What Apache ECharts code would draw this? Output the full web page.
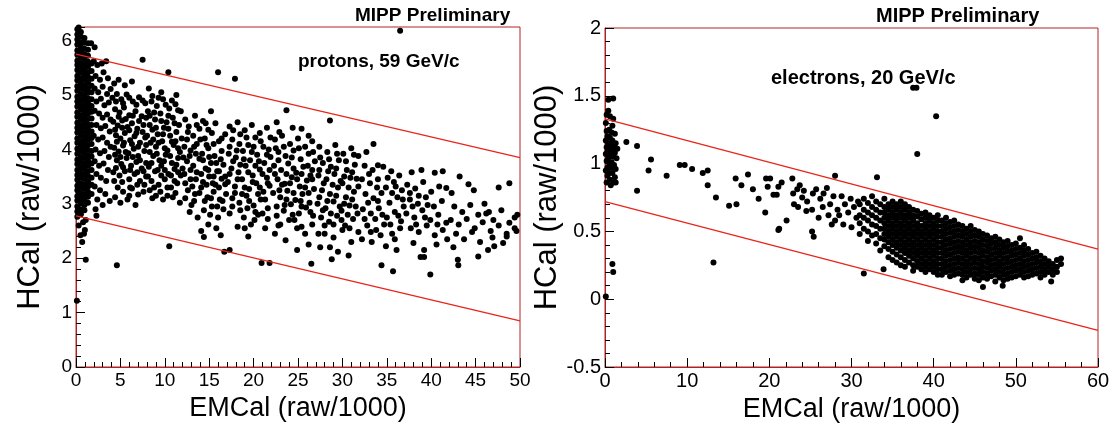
<!DOCTYPE html>
<html>
<head>
<meta charset="utf-8">
<script src="https://cdn.jsdelivr.net/npm/echarts@6/dist/echarts.min.js"></script>
<style>
  html, body { margin: 0; padding: 0; background: #fff; }
  #chart { width: 1117px; height: 429px; }
</style>
</head>
<body>
<div id="chart"></div>
<script>
// ---- protons, 59 GeV/c (left panel) ----
// dense column near EMCal = 0, one [x, y...] entry per column
const protonCore = [
  [0.15, 2.76, 2.86, 2.95, 3.06, 3.14, 3.25, 3.33, 3.44, 3.53, 3.62, 3.73, 3.81, 3.92, 4.01, 4.12, 4.20, 4.31, 4.40, 4.49, 4.60, 4.68, 4.79, 4.88, 4.97, 5.08, 5.16, 5.27, 5.35, 5.46, 5.55, 5.63, 5.74, 5.82, 5.93, 6.02, 6.11, 6.21],
  [0.55, 2.81, 2.90, 3.01, 3.10, 3.19, 3.29, 3.38, 3.48, 3.57, 3.67, 3.77, 3.86, 3.96, 4.06, 4.15, 4.25, 4.35, 4.44, 4.54, 4.63, 4.73, 4.83, 4.92, 5.02, 5.12, 5.21, 5.31, 5.41, 5.50, 5.59, 5.69, 5.78, 5.88, 5.97, 6.07, 6.16],
  [0.95, 2.88, 2.98, 3.08, 3.17, 3.27, 3.36, 3.46, 3.55, 3.65, 3.74, 3.84, 3.94, 4.03, 4.13, 4.22, 4.32, 4.42, 4.51, 4.61, 4.70, 4.80, 4.90, 4.99, 5.09, 5.18, 5.28, 5.37, 5.47, 5.56, 5.66, 5.75, 5.85, 5.96, 6.05],
  [1.35, 3.02, 3.13, 3.22, 3.32, 3.41, 3.51, 3.60, 3.70, 3.79, 3.89, 3.99, 4.08, 4.18, 4.27, 4.37, 4.46, 4.56, 4.66, 4.75, 4.85, 4.94, 5.04, 5.13, 5.23, 5.33, 5.42, 5.52, 5.61, 5.72, 5.83, 5.95],
  [1.75, 3.18, 3.35, 3.48, 3.62, 3.74, 3.87, 3.97, 4.10, 4.21, 4.33, 4.45, 4.57, 4.69, 4.80, 4.92, 5.05, 5.17, 5.30, 5.44, 5.58]
]
const protonPoints = [
  [0.5, 2.42], [0.9, 2.45], [0.7, 2.30], [1.0, 2.52], [0.3, 2.60], [0.8, 2.66], [1.1, 2.70], [0.1, 1.22], [1.1, 1.97], [2.3, 2.78], [1.7, 5.95], [2.1, 5.88], [0.3, 6.24],
  [2.0, 5.62], [2.4, 5.55], [2.9, 5.58], [3.4, 5.62], [2.2, 5.35], [2.7, 5.28], [3.1, 5.42], [3.6, 5.31], [2.1, 5.12], [2.5, 5.05], [3.0, 5.15], [3.5, 5.02], [3.9, 5.11],
  [2.3, 4.88], [2.8, 4.93], [3.2, 4.81], [3.7, 4.86], [2.1, 4.71], [2.6, 4.66], [3.0, 4.58], [3.5, 4.64], [3.9, 4.55], [2.3, 4.45], [2.8, 4.39], [3.3, 4.43], [3.8, 4.33],
  [2.0, 4.25], [2.5, 4.18], [3.0, 4.22], [3.5, 4.12], [3.9, 4.05], [2.2, 4.00], [2.7, 3.93], [3.2, 3.97], [3.7, 3.86], [2.1, 3.78], [2.6, 3.70], [3.1, 3.74], [3.6, 3.62],
  [2.3, 3.55], [2.8, 3.48], [3.4, 3.42], [2.1, 3.32], [2.7, 3.25], [3.3, 3.18], [2.4, 3.08], [3.0, 2.98], [3.8, 3.05], [2.2, 2.90],
  [4.3, 5.21], [4.8, 5.28], [5.5, 5.18], [6.3, 5.25], [7.5, 5.65], [4.1, 4.95], [4.6, 5.02], [5.1, 4.92], [5.7, 5.01], [6.4, 4.88], [7.1, 4.96], [7.8, 4.85],
  [4.4, 4.74], [4.9, 4.68], [5.4, 4.77], [6.0, 4.63], [6.7, 4.70], [7.4, 4.61], [4.2, 4.51], [4.7, 4.44], [5.2, 4.53], [5.8, 4.41], [6.3, 4.48], [6.9, 4.38], [7.6, 4.45],
  [4.5, 4.26], [5.0, 4.20], [5.5, 4.30], [6.1, 4.17], [6.6, 4.24], [7.2, 4.12], [7.8, 4.22], [4.3, 4.03], [4.8, 3.96], [5.3, 4.07], [5.9, 3.93], [6.5, 4.01], [7.0, 3.88],
  [7.7, 3.97], [4.6, 3.80], [5.1, 3.73], [5.7, 3.84], [6.2, 3.70], [6.8, 3.77], [7.4, 3.65], [4.2, 3.58], [4.9, 3.52], [5.5, 3.60], [6.0, 3.45], [6.6, 3.55], [7.2, 3.42],
  [7.9, 3.50], [4.7, 3.30], [5.3, 3.22], [6.3, 3.28], [7.0, 3.17], [5.8, 3.08], [4.4, 3.12], [6.7, 2.98], [7.6, 3.22], [4.6, 1.87],
  [8.2, 5.12], [9.6, 5.05], [10.4, 5.42], [11.3, 5.00], [8.5, 4.88], [9.1, 4.80], [9.8, 4.92], [10.5, 4.75], [11.2, 4.83], [11.8, 4.70], [8.3, 4.62], [8.9, 4.55],
  [9.5, 4.66], [10.2, 4.50], [10.9, 4.58], [11.6, 4.45], [8.6, 4.36], [9.2, 4.28], [9.9, 4.40], [10.6, 4.25], [11.3, 4.32], [11.9, 4.20], [8.4, 4.12], [9.0, 4.05],
  [9.7, 4.15], [10.3, 3.98], [11.0, 4.08], [11.7, 3.95], [8.7, 3.88], [9.4, 3.80], [10.1, 3.90], [10.8, 3.75], [11.5, 3.84], [8.2, 3.68], [8.9, 3.60], [9.6, 3.70],
  [10.4, 3.55], [11.1, 3.64], [11.8, 3.52], [8.5, 3.42], [9.3, 3.35], [10.0, 3.45], [10.7, 3.30], [11.4, 3.38], [9.0, 3.15], [9.8, 3.08], [10.9, 3.12], [11.7, 3.02],
  [8.3, 3.25], [10.5, 2.22],
  [12.3, 4.55], [13.4, 4.62], [14.6, 4.48], [15.2, 4.70], [16.0, 5.42], [12.6, 4.32], [13.2, 4.25], [13.9, 4.38], [14.5, 4.20], [15.3, 4.30], [16.1, 4.15], [16.8, 4.28],
  [12.2, 4.05], [12.9, 3.98], [13.6, 4.10], [14.2, 3.92], [14.9, 4.02], [15.6, 3.88], [16.4, 3.97], [12.5, 3.78], [13.2, 3.70], [13.9, 3.83], [14.6, 3.65], [15.2, 3.75],
  [15.9, 3.60], [16.6, 3.72], [12.2, 3.55], [12.9, 3.45], [13.6, 3.58], [14.3, 3.40], [15.0, 3.50], [15.7, 3.35], [16.4, 3.46], [12.6, 3.25], [13.4, 3.18], [14.1, 3.30],
  [14.8, 3.12], [15.5, 3.22], [16.2, 3.08], [16.9, 3.18], [13.0, 2.98], [14.4, 2.88], [15.3, 2.95], [16.0, 2.75], [16.6, 2.90], [14.1, 2.50], [14.9, 2.62], [15.8, 2.55],
  [16.7, 2.12], [16.3, 2.42], [14.4, 2.39],
  [17.9, 5.30], [17.3, 4.42], [18.2, 4.50], [19.0, 4.35], [19.8, 4.45], [20.7, 4.30], [21.5, 4.40], [17.6, 4.18], [18.4, 4.10], [19.2, 4.22], [20.0, 4.05], [20.8, 4.15],
  [21.7, 4.00], [17.2, 3.92], [18.0, 3.85], [18.8, 3.97], [19.6, 3.80], [20.4, 3.90], [21.2, 3.75], [21.9, 3.86], [17.5, 3.65], [18.3, 3.58], [19.1, 3.70], [19.9, 3.52],
  [20.7, 3.63], [21.5, 3.48], [17.1, 3.40], [17.9, 3.32], [18.7, 3.45], [19.5, 3.27], [20.3, 3.38], [21.1, 3.22], [21.8, 3.33], [17.6, 3.10], [18.4, 3.02], [19.2, 3.15],
  [20.0, 2.97], [20.8, 3.08], [21.6, 2.92], [17.3, 2.82], [18.9, 2.75], [19.7, 2.62], [20.5, 2.80], [21.3, 2.55], [18.2, 2.58], [19.4, 2.40], [20.9, 1.91], [21.8, 1.91],
  [17.3, 2.15],
  [22.6, 4.50], [23.7, 4.72], [22.4, 4.18], [23.2, 4.25], [24.1, 4.10], [25.0, 4.20], [25.8, 4.05], [26.6, 4.15], [22.8, 3.95], [23.6, 3.88], [24.5, 3.98], [25.3, 3.82],
  [26.2, 3.92], [26.9, 3.78], [22.3, 3.70], [23.1, 3.62], [23.9, 3.74], [24.8, 3.57], [25.6, 3.68], [26.4, 3.52], [22.7, 3.45], [23.5, 3.37], [24.3, 3.49], [25.2, 3.32],
  [26.0, 3.43], [26.8, 3.27], [22.2, 3.20], [23.0, 3.12], [23.8, 3.24], [24.7, 3.07], [25.5, 3.18], [26.3, 3.02], [22.6, 2.95], [23.4, 2.87], [24.2, 2.99], [25.1, 2.82],
  [25.9, 2.93], [26.7, 2.78], [23.0, 2.62], [24.0, 2.70], [24.9, 2.55], [25.8, 2.45], [26.6, 2.62], [22.4, 2.45], [23.6, 2.33], [24.9, 2.15], [26.5, 1.90], [26.2, 2.25],
  [28.6, 4.53], [27.4, 4.05], [28.3, 3.95], [29.2, 4.08], [30.1, 3.92], [31.0, 4.02], [31.8, 3.88], [27.8, 3.75], [28.7, 3.68], [29.6, 3.80], [30.5, 3.62], [31.4, 3.72],
  [27.3, 3.52], [28.2, 3.45], [29.1, 3.55], [30.0, 3.38], [30.9, 3.48], [31.8, 3.32], [27.7, 3.25], [28.6, 3.18], [29.5, 3.30], [30.4, 3.12], [31.3, 3.22], [27.2, 3.00],
  [28.1, 2.92], [29.0, 3.04], [29.9, 2.87], [30.8, 2.97], [31.7, 2.82], [27.6, 2.75], [28.5, 2.67], [29.4, 2.78], [30.3, 2.60], [31.2, 2.72], [28.0, 2.45], [29.0, 2.38],
  [30.0, 2.52], [31.0, 2.30], [31.8, 2.48], [27.5, 2.20], [29.5, 2.12], [30.7, 2.05], [28.8, 1.98], [28.6, 2.20],
  [32.7, 3.95], [33.5, 4.10], [32.5, 3.70], [33.4, 3.62], [34.0, 3.71], [34.6, 3.68], [35.5, 3.60], [36.4, 3.52], [32.2, 3.45], [33.1, 3.38], [34.0, 3.45], [34.9, 3.30],
  [35.8, 3.40], [36.7, 3.25], [32.6, 3.18], [33.5, 3.10], [34.4, 3.20], [35.3, 3.02], [36.2, 3.12], [36.9, 2.95], [32.3, 2.90], [33.2, 2.82], [34.1, 2.92], [35.0, 2.75],
  [35.9, 2.85], [36.6, 2.68], [32.8, 2.60], [33.8, 2.52], [34.7, 2.62], [35.6, 2.45], [36.5, 2.55], [33.3, 2.30], [34.9, 2.22], [36.1, 2.15], [34.4, 1.87], [35.7, 1.76],
  [32.2, 2.35], [36.5, 6.18],
  [37.8, 3.58], [38.9, 3.62], [40.4, 3.57], [41.3, 3.60], [37.3, 3.35], [38.2, 3.28], [39.1, 3.40], [40.0, 3.22], [40.9, 3.32], [41.7, 3.29], [37.6, 3.08], [38.5, 3.00],
  [39.4, 3.12], [40.3, 2.95], [41.2, 3.05], [37.2, 2.82], [38.1, 2.75], [39.0, 2.88], [39.9, 2.70], [40.8, 2.80], [41.7, 2.65], [37.7, 2.55], [38.6, 2.48], [39.5, 2.60],
  [40.4, 2.42], [41.3, 2.52], [38.0, 2.28], [39.2, 2.15], [40.6, 2.25], [38.8, 2.02], [39.2, 2.02], [39.9, 1.70], [41.8, 2.35],
  [42.3, 3.20], [43.2, 3.50], [44.8, 3.25], [44.2, 3.36], [46.2, 2.82], [46.5, 2.85], [47.6, 3.30], [48.8, 3.38], [49.4, 2.75], [42.6, 2.95], [43.5, 2.85], [44.4, 2.98],
  [45.3, 2.80], [46.0, 3.00], [47.0, 2.70], [47.9, 2.88], [48.8, 2.65], [49.7, 2.80], [42.2, 2.70], [43.1, 2.62], [44.0, 2.72], [44.9, 2.55], [45.8, 2.66], [46.7, 2.50],
  [47.6, 2.60], [48.5, 2.45], [49.4, 2.55], [42.8, 2.45], [43.7, 2.35], [44.6, 2.48], [45.5, 2.30], [46.9, 2.38], [48.1, 2.28], [49.6, 2.50], [43.0, 1.97], [43.05, 1.87],
  [45.3, 2.03], [47.1, 2.22], [48.5, 2.40], [42.5, 2.20], [46.4, 2.15]
]
// second pass over the band, filling between the first set
const protonPointsFill = [
  [4.5, 4.88], [5.3, 4.85], [6.0, 4.95], [6.8, 4.82], [7.5, 4.90], [4.8, 4.60], [5.6, 4.56], [6.4, 4.62], [7.1, 4.52], [7.9, 4.58], [4.4, 4.36], [5.2, 4.40], [6.0, 4.35],
  [6.8, 4.30], [7.5, 4.32], [4.6, 4.14], [5.4, 4.12], [6.3, 4.10], [7.0, 4.05], [7.9, 4.08], [4.4, 3.90], [5.0, 3.86], [5.6, 3.95], [6.4, 3.86], [7.2, 3.80], [7.9, 3.75],
  [4.5, 3.66], [5.3, 3.67], [6.1, 3.62], [6.9, 3.58], [7.6, 3.60], [4.3, 3.42], [5.2, 3.40], [6.1, 3.30], [6.9, 3.35], [7.7, 3.35], [5.0, 3.02], [6.0, 3.15],
  [8.6, 4.98], [9.3, 4.95], [10.1, 4.82], [10.8, 4.90], [11.5, 4.72], [8.1, 4.70], [8.8, 4.68], [9.6, 4.52], [10.4, 4.62], [11.1, 4.48], [8.3, 4.45], [9.0, 4.40],
  [9.8, 4.28], [10.4, 4.38], [11.2, 4.15], [8.0, 4.25], [8.7, 4.18], [9.3, 4.12], [10.0, 4.02], [10.8, 4.14], [11.5, 4.02], [8.3, 3.95], [9.1, 3.92], [9.9, 3.78],
  [10.6, 3.88], [11.3, 3.72], [8.5, 3.75], [9.2, 3.62], [10.0, 3.62], [10.7, 3.52], [11.5, 3.58], [8.1, 3.50], [8.8, 3.30], [9.6, 3.52], [10.3, 3.30], [11.1, 3.42],
  [9.5, 3.22], [10.3, 3.15], [11.2, 3.20], [8.6, 3.10],
  [12.7, 4.42], [13.6, 4.45], [14.3, 4.52], [14.9, 4.36], [15.7, 4.48], [12.5, 4.18], [13.3, 4.05], [14.0, 4.18], [14.7, 4.08], [15.5, 4.10], [16.4, 4.20], [12.1, 3.85],
  [12.8, 3.88], [13.5, 3.92], [14.3, 3.80], [15.0, 3.86], [15.8, 3.75], [16.3, 3.82], [12.0, 3.65], [12.9, 3.62], [13.5, 3.45], [14.1, 3.55], [14.9, 3.62], [15.5, 3.50],
  [16.1, 3.60], [16.8, 3.50], [12.3, 3.38], [13.1, 3.32], [13.9, 3.20], [14.7, 3.35], [15.4, 3.38], [16.1, 3.30], [16.8, 3.36], [12.3, 3.10], [13.3, 3.05], [14.5, 3.05],
  [15.2, 3.10], [15.9, 2.95], [16.5, 3.05], [13.7, 2.75], [15.1, 2.80], [12.8, 2.85],
  [17.7, 4.35], [18.5, 4.28], [19.4, 4.08], [20.2, 4.22], [21.1, 4.05], [21.9, 4.22], [17.3, 4.05], [18.1, 3.98], [18.9, 3.82], [19.8, 3.95], [20.6, 3.78], [21.5, 3.90],
  [17.7, 3.78], [18.5, 3.72], [19.4, 3.58], [20.2, 3.70], [21.0, 3.55], [21.8, 3.62], [17.3, 3.55], [18.2, 3.45], [19.0, 3.30], [19.9, 3.40], [20.7, 3.30], [21.6, 3.38],
  [17.9, 3.20], [18.7, 3.18], [19.5, 3.05], [20.5, 3.18], [21.3, 3.08], [17.6, 2.95], [18.5, 2.88], [19.3, 2.92], [20.2, 2.85], [21.0, 2.82], [19.0, 2.55], [20.1, 2.70],
  [21.6, 2.72],
  [22.9, 4.32], [24.4, 4.40], [25.4, 4.38], [26.2, 4.25], [22.5, 4.02], [23.4, 4.05], [24.3, 3.85], [25.1, 4.02], [26.1, 3.70], [26.7, 3.95], [22.8, 3.80], [23.7, 3.55],
  [24.5, 3.65], [25.4, 3.55], [26.6, 3.62], [22.4, 3.55], [23.2, 3.35], [24.1, 3.38], [24.9, 3.45], [25.8, 3.30], [26.6, 3.45], [22.9, 3.25], [23.7, 3.08], [24.5, 3.20],
  [25.3, 3.05], [26.2, 3.20], [22.6, 2.78], [23.5, 2.98], [24.4, 2.80], [25.4, 2.95], [26.4, 2.85], [22.8, 2.60], [24.6, 2.70], [25.4, 2.58],
  [27.5, 3.85], [28.5, 3.82], [29.4, 3.92], [30.4, 3.78], [31.3, 3.90], [27.4, 3.62], [28.4, 3.60], [29.3, 3.65], [30.2, 3.50], [31.1, 3.58], [27.9, 3.38], [28.9, 3.35],
  [29.8, 3.42], [30.7, 3.30], [31.6, 3.46], [27.4, 3.12], [28.3, 3.05], [29.3, 3.15], [30.2, 3.00], [31.1, 3.08], [27.8, 2.88], [28.7, 2.82], [29.7, 2.95], [30.6, 2.80],
  [31.5, 2.95], [28.0, 2.60], [29.0, 2.62], [29.9, 2.70], [30.8, 2.55], [27.3, 2.45],
  [33.0, 3.55], [33.9, 3.30], [35.1, 3.48], [36.0, 3.32], [32.9, 3.02], [34.0, 3.05], [35.6, 3.20], [36.8, 3.08], [32.5, 2.72], [33.7, 2.72], [34.5, 2.80], [35.4, 2.62],
  [36.3, 2.78], [33.2, 2.48], [34.3, 2.42], [35.9, 2.35], [37.6, 3.20], [38.6, 3.15], [39.6, 2.98], [38.3, 2.62], [39.3, 2.75], [40.7, 2.62], [37.9, 2.95]
]
const protonCutUpper = [[0, 5.75], [50, 3.85]]
const protonCutLower = [[0, 2.78], [50, 0.85]]

// ---- electrons, 20 GeV/c (right panel) ----
const electronColumn = [
  [0.4, 1.47], [1.0, 1.48], [0.2, 1.36], [0.6, 1.35], [1.0, 1.33], [0.1, 1.30], [0.5, 1.25], [0.2, 1.24], [0.8, 1.23], [1.2, 1.22], [0.3, 1.20], [0.6, 1.19],
  [0.1, 1.17], [0.9, 1.17], [0.4, 1.15], [1.3, 1.15], [0.7, 1.14], [0.2, 1.12], [1.0, 1.12], [0.5, 1.11], [1.5, 1.11], [0.3, 1.09], [0.8, 1.09], [1.2, 1.08],
  [0.1, 1.07], [0.6, 1.06], [1.0, 1.05], [0.4, 1.04], [1.4, 1.04], [0.2, 1.02], [0.8, 1.01], [0.5, 1.00], [1.1, 0.99], [0.3, 0.97], [0.7, 0.97], [1.3, 0.96],
  [0.1, 0.95], [0.5, 0.93], [0.9, 0.93], [0.3, 0.91], [1.2, 0.90], [0.6, 0.88], [0.2, 0.86], [1.0, 0.86], [0.7, 0.84], [1.3, 0.86], [0.4, 1.39], [0.9, 1.28],
  [0.9, 0.26], [1.0, 0.20], [0.1, 0.02]
]
const electronSparse = [
  [2.6, 1.16], [3.9, 1.13], [3.9, 0.80], [5.3, 0.95], [5.6, 1.03], [7.5, 0.91], [9.1, 0.99], [9.7, 0.99], [10.6, 0.96], [11.9, 0.93], [12.5, 0.95], [12.5, 0.84],
  [13.5, 0.75], [13.2, 0.27], [15.1, 0.69], [15.9, 0.89], [16.0, 0.70], [16.6, 0.84], [17.4, 0.92], [18.0, 0.81], [18.7, 0.74], [19.5, 0.64], [19.6, 0.89], [19.8, 0.83],
  [20.5, 0.77], [20.9, 0.77], [21.1, 0.83], [21.2, 0.52], [20.1, 0.89], [21.5, 0.86],
  [37.5, 1.56], [37.9, 1.56], [38.0, 1.07], [40.3, 1.35], [28.0, 0.91], [33.1, 0.90], [31.5, 0.19], [33.9, 0.22], [46.0, 0.09], [48.4, 0.10], [54.3, 0.13],
  [22.1, 0.58], [22.8, 0.89], [22.9, 0.78], [23.4, 0.81], [23.7, 0.84], [24.2, 0.80], [24.6, 0.72], [24.0, 0.75], [25.3, 0.78], [25.7, 0.81], [26.2, 0.74], [26.6, 0.78],
  [25.2, 0.66], [26.5, 0.68], [27.0, 0.82], [27.4, 0.70], [27.8, 0.76], [28.3, 0.66], [28.8, 0.76], [29.2, 0.70], [29.6, 0.64], [29.9, 0.74], [30.3, 0.68], [30.6, 0.60],
  [28.0, 0.58], [29.0, 0.55], [27.2, 0.62], [30.0, 0.53], [30.8, 0.72], [23.0, 0.70], [25.4, 0.46], [25.2, 0.50], [21.1, 0.51], [26.0, 0.60], [27.6, 0.55], [28.5, 0.62],
  [24.5, 0.65], [23.5, 0.68]
]
// dense band, one [x, y...] entry per column
const electronBand = [
  [31.0, 0.70, 0.62, 0.56, 0.48], [31.5, 0.74, 0.66, 0.60, 0.52], [32.0, 0.71, 0.64, 0.58, 0.50, 0.43], [32.5, 0.76, 0.68, 0.62, 0.55, 0.47],
  [33.0, 0.72, 0.66, 0.60, 0.54, 0.48, 0.41], [33.5, 0.70, 0.64, 0.58, 0.52, 0.45, 0.36],
  [34.0, 0.74, 0.68, 0.64, 0.60, 0.56, 0.52, 0.48, 0.44, 0.39], [34.5, 0.70, 0.66, 0.62, 0.58, 0.54, 0.50, 0.46, 0.42, 0.37, 0.31],
  [35.0, 0.72, 0.68, 0.64, 0.60, 0.56, 0.52, 0.48, 0.44, 0.40, 0.35, 0.29], [35.5, 0.70, 0.66, 0.62, 0.58, 0.54, 0.50, 0.46, 0.42, 0.38, 0.33, 0.27],
  [36.0, 0.72, 0.68, 0.64, 0.60, 0.56, 0.52, 0.48, 0.44, 0.40, 0.36, 0.31, 0.25], [36.5, 0.70, 0.66, 0.62, 0.58, 0.54, 0.50, 0.46, 0.42, 0.38, 0.34, 0.29, 0.24],
  [37.0, 0.68, 0.64, 0.60, 0.56, 0.52, 0.48, 0.44, 0.40, 0.36, 0.32, 0.27], [37.5, 0.66, 0.62, 0.58, 0.54, 0.50, 0.46, 0.42, 0.38, 0.34, 0.30, 0.25, 0.21],
  [38.0, 0.65, 0.61, 0.56, 0.52, 0.48, 0.44, 0.40, 0.36, 0.32, 0.28, 0.24], [38.5, 0.63, 0.59, 0.54, 0.50, 0.46, 0.42, 0.38, 0.34, 0.30, 0.26, 0.22],
  [39.0, 0.64, 0.60, 0.56, 0.52, 0.48, 0.44, 0.40, 0.36, 0.32, 0.28, 0.24, 0.20], [39.5, 0.62, 0.58, 0.54, 0.50, 0.46, 0.42, 0.38, 0.34, 0.30, 0.26, 0.22],
  [40.0, 0.60, 0.56, 0.52, 0.48, 0.44, 0.40, 0.36, 0.32, 0.28, 0.24, 0.20], [40.5, 0.62, 0.58, 0.54, 0.50, 0.46, 0.42, 0.38, 0.34, 0.30, 0.26, 0.22, 0.18],
  [41.0, 0.58, 0.54, 0.50, 0.46, 0.42, 0.38, 0.34, 0.30, 0.26, 0.22, 0.18], [41.5, 0.60, 0.56, 0.52, 0.48, 0.44, 0.40, 0.36, 0.32, 0.28, 0.24, 0.20],
  [42.0, 0.57, 0.53, 0.49, 0.45, 0.41, 0.37, 0.33, 0.29, 0.25, 0.21, 0.17], [42.5, 0.58, 0.54, 0.50, 0.46, 0.42, 0.38, 0.34, 0.30, 0.26, 0.22, 0.18],
  [43.0, 0.55, 0.51, 0.47, 0.43, 0.39, 0.35, 0.31, 0.27, 0.23, 0.19], [43.5, 0.54, 0.50, 0.46, 0.42, 0.38, 0.34, 0.30, 0.26, 0.22, 0.18, 0.14],
  [44.0, 0.52, 0.48, 0.44, 0.40, 0.36, 0.32, 0.28, 0.24, 0.20, 0.16], [44.5, 0.54, 0.50, 0.46, 0.42, 0.38, 0.34, 0.30, 0.26, 0.22, 0.18],
  [45.0, 0.51, 0.47, 0.43, 0.39, 0.35, 0.31, 0.27, 0.23, 0.19, 0.15], [45.5, 0.50, 0.46, 0.42, 0.38, 0.34, 0.30, 0.26, 0.22, 0.18, 0.14],
  [46.0, 0.48, 0.44, 0.40, 0.36, 0.32, 0.28, 0.24, 0.20, 0.16], [46.5, 0.47, 0.43, 0.39, 0.35, 0.31, 0.27, 0.23, 0.19, 0.15],
  [47.0, 0.45, 0.41, 0.37, 0.33, 0.29, 0.25, 0.21, 0.17], [47.5, 0.46, 0.42, 0.38, 0.34, 0.30, 0.26, 0.22, 0.18, 0.13],
  [48.0, 0.44, 0.40, 0.36, 0.32, 0.28, 0.24, 0.20, 0.16], [48.5, 0.42, 0.38, 0.34, 0.30, 0.26, 0.22, 0.18, 0.14],
  [49.0, 0.43, 0.39, 0.35, 0.31, 0.27, 0.23, 0.19, 0.15], [49.5, 0.40, 0.36, 0.32, 0.28, 0.24, 0.20, 0.16],
  [50.0, 0.41, 0.37, 0.33, 0.29, 0.25, 0.21, 0.17], [50.5, 0.45, 0.38, 0.34, 0.30, 0.26, 0.22, 0.18],
  [51.0, 0.40, 0.36, 0.32, 0.28, 0.24, 0.20, 0.16], [51.5, 0.37, 0.33, 0.29, 0.25, 0.21, 0.17],
  [52.0, 0.34, 0.30, 0.26, 0.22, 0.18], [52.5, 0.35, 0.31, 0.27, 0.23, 0.19], [53.0, 0.32, 0.28, 0.24, 0.20, 0.16], [53.5, 0.30, 0.26, 0.22, 0.18],
  [54.0, 0.28, 0.24, 0.20], [54.5, 0.26, 0.22, 0.18], [55.0, 0.29, 0.24, 0.20], [55.5, 0.30, 0.26]
]
const electronCutUpper = [[0, 1.33], [60, 0.37]]
const electronCutLower = [[0, 0.72], [60, -0.23]]

const protonXTicks = { min: 0, max: 50, interval: 5 }
const protonYTicks = { min: 0, max: 6.25, interval: 1 }
const electronXTicks = { min: 0, max: 60, interval: 10 }
const electronYTicks = { min: -0.5, max: 2, interval: 0.5 }

const fromColumns = cols => {
  const out = []
  cols.forEach(c => {
    for (let i = 1; i < c.length; i++) out.push([c[0], c[i]])
  })
  return out
}

const FRAME = '#b22222'
const CUT = '#e8251c'
const FONT = 'Liberation Sans, Arial, Helvetica, sans-serif'

const makeX = (gridIndex, ticks, fontSize) => ({
  type: 'value',
  gridIndex,
  min: ticks.min,
  max: ticks.max,
  interval: ticks.interval,
  name: 'EMCal (raw/1000)',
  nameLocation: 'middle',
  nameGap: 27,
  nameTextStyle: { fontFamily: FONT, fontSize: 27, color: '#000' },
  axisLine: { show: true, onZero: false, lineStyle: { color: FRAME, width: 1 } },
  axisTick: { show: true, inside: true, length: 9, lineStyle: { color: '#000', width: 1 } },
  minorTick: { show: true, splitNumber: 5, length: 5, lineStyle: { color: '#000', width: 1 } },
  splitLine: { show: false },
  axisLabel: { fontFamily: FONT, fontSize, color: '#000', margin: 4 }
})

const makeY = (gridIndex, ticks, fontSize, gap) => ({
  type: 'value',
  gridIndex,
  min: ticks.min,
  max: ticks.max,
  interval: ticks.interval,
  name: 'HCal (raw/1000)',
  nameLocation: 'middle',
  nameGap: gap,
  nameTextStyle: { fontFamily: FONT, fontSize: 31, color: '#000' },
  axisLine: { show: true, onZero: false, lineStyle: { color: FRAME, width: 1 } },
  axisTick: { show: true, inside: true, length: 9, lineStyle: { color: '#000', width: 1 } },
  minorTick: { show: true, splitNumber: 5, length: 5, lineStyle: { color: '#000', width: 1 } },
  splitLine: { show: false },
  axisLabel: { fontFamily: FONT, fontSize, color: '#000', margin: 4, showMaxLabel: ticks.max % ticks.interval === 0 }
})

const dots = (i, data) => ({
  type: 'scatter',
  xAxisIndex: i,
  yAxisIndex: i,
  data,
  symbol: 'circle',
  symbolSize: 6,
  itemStyle: { color: '#000', opacity: 1 },
  large: false,
  silent: true
})

const cut = (i, data) => ({
  type: 'line',
  xAxisIndex: i,
  yAxisIndex: i,
  data,
  symbol: 'none',
  lineStyle: { color: CUT, width: 1.3 },
  silent: true,
  z: 3
})

const chart = echarts.init(document.getElementById('chart'))
chart.setOption({
  animation: false,
  backgroundColor: '#fff',
  grid: [
    { left: 76, right: 597, top: 27, bottom: 62, show: true, borderColor: FRAME, borderWidth: 1 },
    { left: 605, right: 19, top: 28, bottom: 62, show: true, borderColor: FRAME, borderWidth: 1 }
  ],
  xAxis: [makeX(0, protonXTicks, 19), makeX(1, electronXTicks, 20)],
  yAxis: [makeY(0, protonYTicks, 19, 30), makeY(1, electronYTicks, 20, 36)],
  series: [
    dots(0, fromColumns(protonCore).concat(protonPoints, protonPointsFill)),
    cut(0, protonCutUpper),
    cut(0, protonCutLower),
    dots(1, electronColumn.concat(electronSparse, fromColumns(electronBand))),
    cut(1, electronCutUpper),
    cut(1, electronCutLower)
  ],
  graphic: [
    { type: 'text', left: 355, top: 6, style: { text: 'MIPP Preliminary', font: 'bold 19px ' + FONT, fill: '#000' } },
    { type: 'text', left: 298, top: 52, style: { text: 'protons, 59 GeV/c', font: 'bold 19px ' + FONT, fill: '#000' } },
    { type: 'text', left: 876, top: 6, style: { text: 'MIPP Preliminary', font: 'bold 20px ' + FONT, fill: '#000' } },
    { type: 'text', left: 771, top: 68, style: { text: 'electrons, 20 GeV/c', font: 'bold 20px ' + FONT, fill: '#000' } }
  ]
})
</script>
</body>
</html>
